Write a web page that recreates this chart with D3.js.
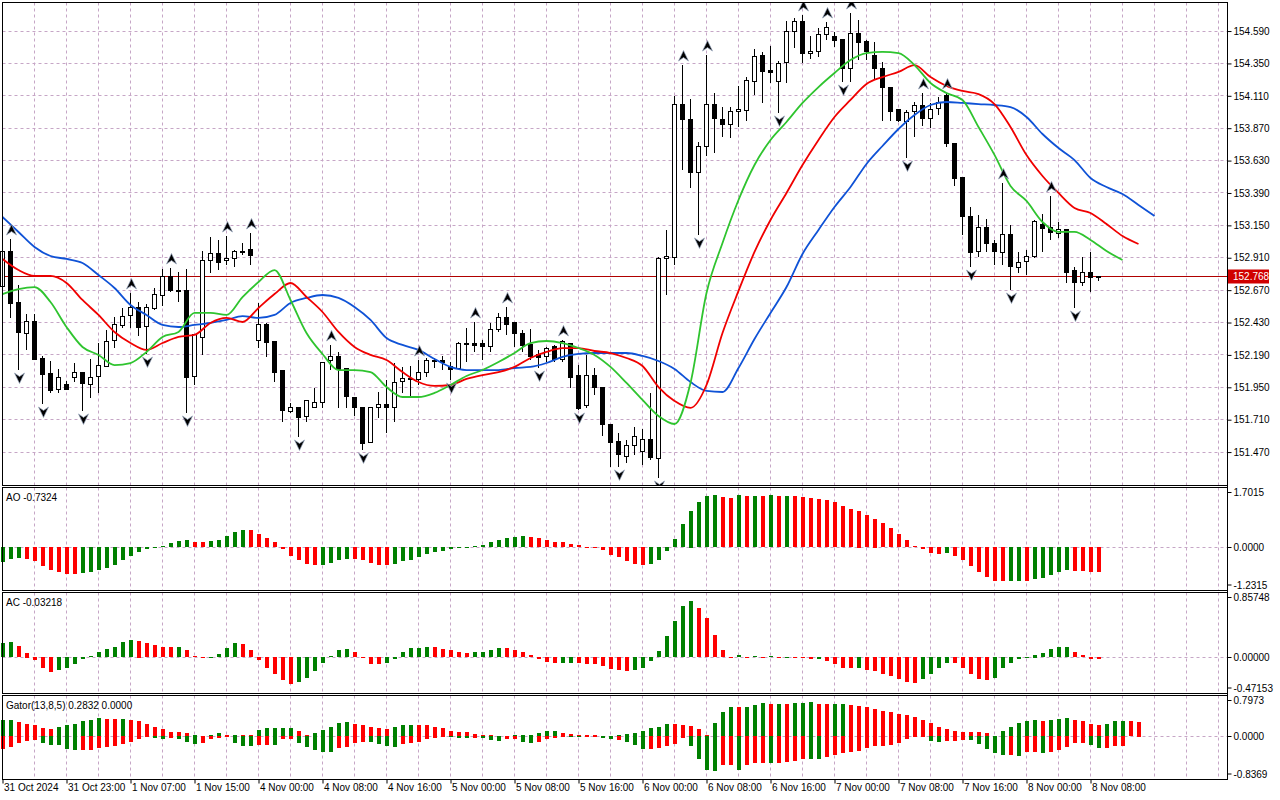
<!DOCTYPE html>
<html lang="en">
<head>
<meta charset="utf-8">
<title>H1 chart - Alligator, AO, AC, Gator</title>
<script src="https://cdn.jsdelivr.net/npm/d3@7"></script>
<style>
	body { margin: 0; background: #fff; }
	svg { display: block; font-family: "Liberation Sans", Arial, sans-serif; font-size: 10px; }
</style>
</head>
<body>
<script type="text/javascript">
// ---- data (one bar per hour, bar 0 = 31 Oct 15:00) ----
var opens = [
	152.693, 152.960, 152.575, 152.352, 152.441, 152.167, 152.049, 151.930, 151.974, 152.019,
	152.056, 151.974, 152.026, 152.108, 152.293, 152.412, 152.478, 152.538, 152.397, 152.538,
	152.627, 152.768, 152.671, 152.671, 152.026, 152.323, 152.886, 152.945, 152.893, 152.908,
	152.960, 152.968, 152.293, 152.412, 152.286, 152.071, 151.775, 151.804, 151.730, 151.804,
	151.841, 152.145, 152.175, 152.086, 151.878, 151.804, 151.545, 151.804, 151.826, 151.804,
	151.989, 152.012, 152.004, 152.056, 152.137, 152.145, 152.101, 152.093, 152.278, 152.278,
	152.271, 152.249, 152.375, 152.464, 152.427, 152.352, 152.264, 152.190, 152.182, 152.249,
	152.152, 152.278, 152.041, 151.819, 152.041, 151.952, 151.678, 151.545, 151.441, 151.522,
	151.471, 151.560, 151.426, 152.901, 152.916, 154.049, 153.938, 153.546, 153.738, 154.042,
	153.938, 153.901, 153.997, 153.997, 154.220, 154.412, 154.301, 154.220, 154.353, 154.583,
	154.664, 154.427, 154.435, 154.561, 154.553, 154.524, 154.316, 154.575, 154.509, 154.412,
	154.316, 154.175, 154.005, 153.923, 153.990, 154.035, 153.946, 154.012, 154.116, 153.760,
	153.501, 153.219, 152.953, 153.131, 153.012, 152.945, 153.079, 152.841, 152.878, 152.916,
	153.160, 153.131, 153.094, 153.123, 152.812, 152.723, 152.797, 152.760
];
var highs = [
	153.005, 153.049, 152.708, 152.493, 152.493, 152.182, 152.145, 152.086, 151.997, 152.130,
	152.063, 152.160, 152.278, 152.375, 152.471, 152.538, 152.649, 152.582, 152.567, 152.686,
	152.827, 152.834, 152.804, 152.827, 152.345, 152.960, 153.064, 153.042, 153.071, 152.968,
	153.019, 153.094, 152.575, 152.427, 152.293, 152.078, 151.834, 151.804, 151.849, 151.945,
	152.137, 152.264, 152.212, 152.086, 151.878, 151.804, 151.804, 151.915, 152.004, 152.130,
	152.101, 152.108, 152.152, 152.167, 152.167, 152.182, 152.137, 152.286, 152.390, 152.434,
	152.301, 152.427, 152.501, 152.545, 152.434, 152.375, 152.382, 152.227, 152.249, 152.264,
	152.301, 152.278, 152.115, 152.190, 152.093, 151.952, 151.678, 151.612, 151.560, 151.656,
	151.641, 151.908, 152.916, 153.116, 154.109, 154.338, 154.086, 153.768, 154.412, 154.131,
	154.027, 154.027, 154.183, 154.249, 154.457, 154.435, 154.479, 154.368, 154.664, 154.687,
	154.709, 154.553, 154.613, 154.657, 154.583, 154.524, 154.724, 154.672, 154.524, 154.509,
	154.361, 154.175, 154.005, 154.005, 154.064, 154.131, 154.057, 154.101, 154.131, 153.760,
	153.501, 153.286, 153.227, 153.197, 153.042, 153.464, 153.153, 152.953, 152.968, 153.190,
	153.234, 153.368, 153.175, 153.123, 152.841, 152.916, 152.953, 152.775
];
var lows = [
	152.596, 152.464, 152.078, 152.227, 152.152, 151.826, 151.908, 151.908, 151.930, 151.989,
	151.775, 151.871, 151.908, 152.101, 152.241, 152.390, 152.390, 152.330, 152.197, 152.523,
	152.553, 152.656, 152.582, 151.760, 151.967, 152.190, 152.797, 152.819, 152.856, 152.841,
	152.930, 152.856, 152.241, 152.175, 151.989, 151.693, 151.760, 151.582, 151.693, 151.804,
	151.797, 152.078, 151.797, 151.797, 151.737, 151.486, 151.537, 151.723, 151.612, 151.693,
	151.908, 151.871, 151.967, 152.026, 152.093, 152.078, 152.004, 152.086, 152.137, 152.212,
	152.152, 152.212, 152.360, 152.338, 152.249, 152.212, 152.152, 152.093, 152.137, 152.137,
	152.137, 151.945, 151.782, 151.797, 151.893, 151.589, 151.360, 151.360, 151.389, 151.448,
	151.374, 151.411, 151.278, 152.634, 152.856, 153.560, 153.427, 153.079, 153.664, 153.686,
	153.805, 153.797, 153.879, 153.923, 154.116, 154.057, 154.205, 153.983, 154.205, 154.464,
	154.353, 154.383, 154.398, 154.524, 154.472, 154.212, 154.212, 154.375, 154.375, 154.227,
	153.923, 153.923, 153.916, 153.649, 153.805, 153.886, 153.872, 153.968, 153.731, 153.442,
	153.079, 152.841, 152.916, 152.953, 152.856, 152.856, 152.671, 152.797, 152.782, 152.908,
	152.953, 153.042, 153.056, 152.723, 152.538, 152.701, 152.656, 152.738
];
var closes = [
	152.953, 152.575, 152.352, 152.441, 152.160, 152.049, 151.923, 152.019, 151.937, 152.056,
	151.974, 152.026, 152.108, 152.293, 152.412, 152.478, 152.538, 152.390, 152.538, 152.641,
	152.768, 152.664, 152.664, 152.026, 152.338, 152.893, 152.938, 152.878, 152.908, 152.960,
	152.953, 152.923, 152.412, 152.278, 152.056, 151.775, 151.804, 151.730, 151.849, 151.841,
	152.137, 152.175, 152.078, 151.878, 151.804, 151.537, 151.804, 151.826, 151.804, 151.989,
	152.012, 152.004, 152.056, 152.145, 152.145, 152.130, 152.078, 152.278, 152.271, 152.264,
	152.249, 152.375, 152.464, 152.412, 152.345, 152.264, 152.175, 152.167, 152.241, 152.152,
	152.286, 152.026, 151.797, 152.041, 151.952, 151.678, 151.545, 151.448, 151.522, 151.589,
	151.560, 151.426, 152.908, 152.916, 154.049, 153.938, 153.546, 153.738, 154.049, 153.938,
	153.901, 153.997, 154.012, 154.220, 154.405, 154.294, 154.287, 154.353, 154.583, 154.657,
	154.427, 154.442, 154.561, 154.613, 154.524, 154.309, 154.575, 154.509, 154.435, 154.316,
	154.175, 153.997, 153.923, 153.990, 154.035, 153.938, 154.012, 154.057, 153.760, 153.501,
	153.212, 152.953, 153.131, 153.012, 152.953, 153.079, 152.841, 152.878, 152.916, 153.175,
	153.131, 153.094, 153.123, 152.804, 152.723, 152.797, 152.760, 152.768
];
var lastPrice = 152.768;

// fractal bars (index into the bar arrays)
var upFractals = [1, 16, 21, 28, 31, 41, 52, 59, 63, 70, 85, 88, 100, 103, 106, 115, 118, 125, 131];
var downFractals = [2, 5, 10, 18, 23, 37, 45, 56, 67, 72, 77, 82, 87, 97, 105, 113, 121, 126, 134];

// alligator lines, read every 2nd bar (bar 0, 2, 4 ...), shifted lines run past the last bar
var jaw = [
	153.212, 153.101, 152.990, 152.923, 152.901, 152.871, 152.782, 152.686, 152.560, 152.486,
	152.412, 152.397, 152.412, 152.427, 152.449, 152.478, 152.464, 152.486, 152.575, 152.612,
	152.634, 152.612, 152.545, 152.449, 152.315, 152.264, 152.227, 152.160, 152.101, 152.078,
	152.078, 152.078, 152.093, 152.101, 152.130, 152.175, 152.197, 152.204, 152.204, 152.204,
	152.182, 152.145, 152.086, 151.989, 151.923, 151.915, 152.093, 152.308, 152.501, 152.693,
	152.938, 153.116, 153.286, 153.434, 153.605, 153.738, 153.864, 153.968, 154.042, 154.064,
	154.057, 154.049, 154.042, 154.027, 153.953, 153.827, 153.723, 153.634, 153.501, 153.434,
	153.382, 153.301, 153.219
];
var teeth = [
	152.901, 152.819, 152.775, 152.775, 152.723, 152.597, 152.486, 152.360, 152.278, 152.227,
	152.278, 152.323, 152.338, 152.427, 152.464, 152.434, 152.538, 152.641, 152.723, 152.619,
	152.508, 152.360, 152.249, 152.190, 152.152, 152.063, 151.989, 151.960, 151.967, 152.012,
	152.041, 152.063, 152.101, 152.167, 152.212, 152.241, 152.241, 152.219, 152.204, 152.167,
	152.108, 151.952, 151.849, 151.797, 151.967, 152.352, 152.664, 152.953, 153.190, 153.390,
	153.597, 153.783, 153.953, 154.079, 154.198, 154.249, 154.287, 154.338, 154.249, 154.183,
	154.146, 154.123, 154.049, 153.879, 153.671, 153.516, 153.390, 153.279, 153.242, 153.160,
	153.071, 153.012
];
var lips = [
	152.641, 152.678, 152.693, 152.582, 152.397, 152.249, 152.190, 152.115, 152.130, 152.212,
	152.323, 152.360, 152.501, 152.501, 152.486, 152.619, 152.730, 152.819, 152.597, 152.352,
	152.197, 152.078, 152.078, 152.063, 151.952, 151.878, 151.878, 151.908, 151.967, 152.034,
	152.078, 152.137, 152.204, 152.278, 152.293, 152.278, 152.241, 152.190, 152.101, 151.982,
	151.856, 151.737, 151.678, 151.982, 152.649, 153.019, 153.338, 153.597, 153.783, 153.916,
	154.057, 154.175, 154.279, 154.375, 154.427, 154.435, 154.427, 154.338, 154.205, 154.131,
	154.079, 153.879, 153.672, 153.442, 153.331, 153.175, 153.101, 153.101, 153.042, 152.960,
	152.893
];
var lineStep = 2;

// Awesome Oscillator
var aoValues = [
	-0.43, -0.34, -0.31, -0.34, -0.41, -0.55, -0.67, -0.73, -0.77, -0.79,
	-0.75, -0.73, -0.67, -0.60, -0.52, -0.38, -0.26, -0.14, -0.07, -0.01,
	0.03, 0.12, 0.17, 0.20, 0.15, 0.14, 0.17, 0.20, 0.32, 0.44,
	0.50, 0.49, 0.37, 0.26, 0.15, -0.05, -0.26, -0.38, -0.50, -0.52,
	-0.51, -0.46, -0.38, -0.34, -0.35, -0.38, -0.46, -0.52, -0.53, -0.49,
	-0.41, -0.36, -0.30, -0.20, -0.14, -0.11, -0.05, -0.04, -0.01, 0.03,
	0.06, 0.15, 0.20, 0.27, 0.30, 0.32, 0.29, 0.27, 0.20, 0.15,
	0.14, 0.09, 0.05, 0.01, -0.005, -0.10, -0.23, -0.29, -0.41, -0.49,
	-0.52, -0.49, -0.38, -0.11, 0.24, 0.67, 1.05, 1.29, 1.46, 1.49,
	1.43, 1.42, 1.49, 1.46, 1.47, 1.46, 1.49, 1.47, 1.48, 1.46,
	1.44, 1.40, 1.39, 1.36, 1.29, 1.19, 1.10, 1.05, 0.93, 0.82,
	0.70, 0.54, 0.38, 0.20, 0.03, -0.05, -0.17, -0.19, -0.18, -0.25,
	-0.37, -0.55, -0.72, -0.86, -0.98, -0.985, -0.98, -0.975, -0.98, -0.92,
	-0.90, -0.81, -0.73, -0.66, -0.68, -0.69, -0.73, -0.7324
];
var aoColors = ("gggrrrrrrr" + "gggggggggg" + "ggggrrgggg" + "grrrrrrrrr" + "ggggrrrrrg" +
	"gggggggggg" + "ggggggrrrr" + "rrrrrrrrrr" + "rggggggggg" + "rrgrgrgrgr" +
	"rrrrrrrrrr" + "rrrrrrrrgr" + "rrrrrrggrg" + "ggggrrrr").split("");

// Accelerator Oscillator
var acValues = [
	0.18, 0.20, 0.145, 0.06, -0.04, -0.145, -0.20, -0.17, -0.145, -0.09,
	-0.02, 0.013, 0.07, 0.105, 0.13, 0.20, 0.22, 0.218, 0.19, 0.16,
	0.13, 0.128, 0.13, 0.09, 0.013, 0.002, 0.004, 0.045, 0.12, 0.19,
	0.175, 0.09, -0.04, -0.14, -0.22, -0.30, -0.35, -0.325, -0.275, -0.18,
	-0.08, 0.013, 0.09, 0.105, 0.07, -0.005, -0.09, -0.092, -0.075, -0.02,
	0.07, 0.12, 0.12, 0.13, 0.13, 0.105, 0.09, 0.065, 0.05, 0.065,
	0.066, 0.09, 0.12, 0.118, 0.09, 0.065, 0.026, -0.02, -0.06, -0.075,
	-0.074, -0.073, -0.075, -0.09, -0.09, -0.115, -0.16, -0.17, -0.185, -0.17,
	-0.145, -0.05, 0.08, 0.28, 0.47, 0.67, 0.74, 0.645, 0.51, 0.29,
	0.09, 0.002, 0.025, 0.001, 0.01, -0.005, 0.01, -0.002, 0.004, -0.003,
	-0.004, -0.03, -0.028, -0.05, -0.09, -0.145, -0.146, -0.14, -0.17, -0.185,
	-0.22, -0.25, -0.29, -0.325, -0.34, -0.285, -0.23, -0.15, -0.075, -0.076,
	-0.145, -0.23, -0.285, -0.30, -0.27, -0.15, -0.075, -0.02, 0.004, 0.035,
	0.05, 0.105, 0.13, 0.132, 0.065, 0.026, -0.02, -0.03218
];
var acColors = ("ggrrrrrggg" + "gggggggrrr" + "rrgrrrgggg" + "rrrrrrrggg" + "ggggrrrrgg" +
	"ggggrrrrrg" + "gggrrrrrrr" + "ggrrrrrrrg" + "gggggggrrr" + "rrgrgrgrgr" +
	"rrgrrrrgrr" + "rrrrrggggr" + "rrrrgggggg" + "ggggrrrr").split("");

// Gator oscillator (upper = jaw/teeth gap, lower = teeth/lips gap)
var gatorUp = [
	0.31, 0.31, 0.28, 0.245, 0.22, 0.155, 0.135, 0.18, 0.21, 0.245,
	0.29, 0.31, 0.35, 0.33, 0.33, 0.335, 0.31, 0.29, 0.245, 0.19,
	0.135, 0.09, 0.077, 0.065, 0.03, 0.01, 0.03, 0.06, 0.02, 0.03,
	0.028, 0.025, 0.115, 0.155, 0.155, 0.155, 0.155, 0.10, 0.02, 0.065,
	0.13, 0.19, 0.25, 0.27, 0.245, 0.22, 0.175, 0.155, 0.15, 0.18,
	0.21, 0.225, 0.22, 0.21, 0.175, 0.155, 0.11, 0.09, 0.077, 0.05,
	0.03, 0.03, 0.015, 0.01, 0.03, 0.03, 0.03, 0.06, 0.10, 0.10,
	0.07, 0.05, 0.03, 0.02, 0.02, 0.01, 0.01, 0.025, 0.05, 0.065,
	0.10, 0.155, 0.19, 0.23, 0.23, 0.21, 0.205, 0.135, 0.03, 0.25,
	0.465, 0.56, 0.56, 0.575, 0.60, 0.64, 0.62, 0.62, 0.62, 0.64,
	0.64, 0.66, 0.62, 0.62, 0.62, 0.62, 0.60, 0.58, 0.56, 0.54,
	0.50, 0.465, 0.43, 0.41, 0.37, 0.31, 0.25, 0.19, 0.135, 0.10,
	0.077, 0.078, 0.077, 0.06, 0.005, 0.10, 0.19, 0.25, 0.29, 0.31,
	0.29, 0.31, 0.33, 0.35, 0.32, 0.29, 0.23, 0.225, 0.23, 0.29,
	0.29, 0.29, 0.2832
];
var gatorUpColors = ("ggrrrrrggg" + "gggrrgrrrr" + "rrrrgrggrg" + "rrgggggrrg" + "ggggrrrrrg" +
	"ggrrrrrrrr" + "rrrrgggggg" + "rrrrrgrggg" + "ggggrrrrrg" + "ggrgggrgrg" +
	"ggrrggrrrr" + "rrrrrrrrrr" + "rrrrgggggg" + "rgggrrrrgg" + "grr").split("");
var gatorDown = [
	-0.26, -0.21, -0.13, -0.10, -0.08, -0.13, -0.18, -0.18, -0.25, -0.28,
	-0.27, -0.27, -0.225, -0.21, -0.19, -0.16, -0.12, -0.05, -0.01, -0.03,
	-0.06, -0.03, -0.05, -0.115, -0.15, -0.13, -0.05, -0.03, -0.02, -0.13,
	-0.19, -0.19, -0.175, -0.175, -0.17, -0.05, -0.05, -0.13, -0.21, -0.27,
	-0.31, -0.31, -0.24, -0.21, -0.13, -0.115, -0.115, -0.15, -0.19, -0.21,
	-0.15, -0.13, -0.115, -0.05, -0.03, -0.005, -0.01, -0.03, -0.03, -0.03,
	-0.03, -0.08, -0.10, -0.065, -0.065, -0.115, -0.13, -0.115, -0.065, -0.04,
	-0.006, -0.01, -0.012, -0.005, -0.003, -0.045, -0.065, -0.07, -0.11, -0.175,
	-0.245, -0.245, -0.225, -0.19, -0.16, -0.03, -0.19, -0.44, -0.66, -0.69,
	-0.57, -0.57, -0.66, -0.57, -0.53, -0.53, -0.53, -0.52, -0.50, -0.49,
	-0.445, -0.44, -0.44, -0.41, -0.37, -0.335, -0.32, -0.30, -0.225, -0.19,
	-0.19, -0.17, -0.13, -0.05, -0.01, -0.004, -0.09, -0.11, -0.09, -0.09,
	-0.07, -0.07, -0.15, -0.245, -0.34, -0.37, -0.36, -0.38, -0.32, -0.32,
	-0.34, -0.32, -0.27, -0.21, -0.13, -0.13, -0.17, -0.225, -0.225, -0.19,
	-0.19
];
var gatorDownColors = ("rrrrrggggg" + "rrrrrrrrrg" + "grgggrrrrg" + "ggrrgrrggg" + "ggrrrrgggg" +
	"rrrrrrgggr" + "gggrrggrrr" + "rggrrggrgg" + "grrrrrgggg" + "rrgrrrgrrr" +
	"rggrrrrrrr" + "rrrrrrggrr" + "rgggggrgrr" + "grrrrrggrr" + "r").split("");

// axes
var priceTicks = [154.59, 154.35, 154.11, 153.87, 153.63, 153.39, 153.15, 152.91, 152.67, 152.43, 152.19, 151.95, 151.71, 151.47];
var timeLabelBars = [0, 8, 16, 24, 32, 40, 48, 56, 64, 72, 80, 88, 96, 104, 112, 120, 128, 136];
var timeLabels = ["31 Oct 2024", "31 Oct 23:00", "1 Nov 07:00", "1 Nov 15:00", "4 Nov 00:00", "4 Nov 08:00",
	"4 Nov 16:00", "5 Nov 00:00", "5 Nov 08:00", "5 Nov 16:00", "6 Nov 00:00", "6 Nov 08:00",
	"6 Nov 16:00", "7 Nov 00:00", "7 Nov 08:00", "7 Nov 16:00", "8 Nov 00:00", "8 Nov 08:00"];
var aoRange = [-1.2315, 1.7015];
var acRange = [-0.47153, 0.85748];
var gatorRange = [-0.8369, 0.7973];

// ---- drawing ----
var FONT = '"Liberation Sans", Arial, sans-serif';
var gridColor = '#c6a6c6';
var upColor = '#008000', downColor = '#ff0000';
var axisX = 1227.5;

// plain hyphen for negative numbers, like the terminal prints them
var locale = d3.formatLocale({decimal: '.', thousands: ',', grouping: [3], currency: ['', ''], minus: '-'});
var fmt3 = locale.format('.3f'), fmt4 = locale.format('.4f'), fmt5 = locale.format('.5f');

var panels = {
	main: [2.5, 485.5],
	ao: [487.5, 590.5],
	ac: [592.5, 693.5],
	gator: [695.5, 779.5]
};

var svg = d3.select('body').append('svg')
	.attr('width', 1280)
	.attr('height', 800);

var x = d3.scaleLinear().domain([0, 150]).range([2.5, 1202.5]);
var y = d3.scaleLinear().domain([151.226, 154.820]).range([485, 0]);
var yAO = d3.scaleLinear().domain(aoRange).range([590, 488]);
var yAC = d3.scaleLinear().domain(acRange).range([693, 592]);
var yG = d3.scaleLinear().domain(gatorRange).range([779.3, 695.3]);

function crisp(v){ return Math.round(v - 0.5) + 0.5; }

svg.append('defs').append('clipPath').attr('id', 'clipMain')
	.append('rect').attr('x', 0).attr('y', 3).attr('width', axisX).attr('height', 482);

// vertical grid in every panel
var gridBars = d3.range(4, 153, 4);
Object.keys(panels).forEach(function(k){
	var p = panels[k];
	svg.append('g').selectAll('line').data(gridBars).enter().append('line')
		.attr('x1', function(d){ return x(d); })
		.attr('x2', function(d){ return x(d); })
		.attr('y1', p[0]).attr('y2', p[1])
		.attr('stroke', gridColor)
		.attr('stroke-dasharray', '3,3');
});

// horizontal grid
svg.append('g').selectAll('line').data(priceTicks).enter().append('line')
	.attr('x1', 2.5).attr('x2', axisX)
	.attr('y1', function(d){ return crisp(y(d)); })
	.attr('y2', function(d){ return crisp(y(d)); })
	.attr('stroke', gridColor)
	.attr('stroke-dasharray', '3,3');

[yAO, yAC, yG].forEach(function(s){
	svg.append('line')
		.attr('x1', 2.5).attr('x2', axisX)
		.attr('y1', crisp(s(0))).attr('y2', crisp(s(0)))
		.attr('stroke', gridColor)
		.attr('stroke-dasharray', '3,3');
});

// last price line
svg.append('line')
	.attr('x1', 2.5).attr('x2', axisX)
	.attr('y1', crisp(y(lastPrice))).attr('y2', crisp(y(lastPrice)))
	.attr('stroke', '#b00000');

var main = svg.append('g').attr('clip-path', 'url(#clipMain)');

// candles
var bars = d3.range(closes.length).map(function(i){
	return {i: i, o: opens[i], h: highs[i], l: lows[i], c: closes[i]};
});

main.append('g').selectAll('line').data(bars).enter().append('line')
	.attr('x1', function(d){ return x(d.i); })
	.attr('x2', function(d){ return x(d.i); })
	.attr('y1', function(d){ return Math.round(y(d.h)); })
	.attr('y2', function(d){ return Math.round(y(d.l)); })
	.attr('stroke', '#000');

main.append('g').selectAll('rect').data(bars).enter().append('rect')
	.attr('x', function(d){ return x(d.i) - 2; })
	.attr('width', 4)
	.attr('y', function(d){ return crisp(y(Math.max(d.o, d.c))); })
	.attr('height', function(d){
		return Math.max(1, Math.round(Math.abs(y(d.o) - y(d.c))));
	})
	.attr('fill', function(d){ return d.c >= d.o ? '#fff' : '#000'; })
	.attr('stroke', '#000');

// alligator
var line = d3.line()
	.x(function(d, k){ return x(k * lineStep); })
	.y(function(d){ return y(d); })
	.curve(d3.curveMonotoneX);

[[jaw, '#0f52d6'], [teeth, '#f00000'], [lips, '#2fc42f']].forEach(function(s){
	main.append('path')
		.attr('d', line(s[0]))
		.attr('fill', 'none')
		.attr('stroke', s[1])
		.attr('stroke-width', 1.8);
});

// fractals
main.append('g').selectAll('path').data(upFractals).enter().append('path')
	.attr('transform', function(d){ return 'translate(' + (x(d) + 1) + ',' + (y(highs[d]) - 9) + ')'; })
	.attr('d', 'M0,-5.5L5,5L0,1.5L-5,5Z')
	.attr('fill', '#000')
	.attr('stroke', '#9aa8c0')
	.attr('stroke-width', 0.7);

main.append('g').selectAll('path').data(downFractals).enter().append('path')
	.attr('transform', function(d){ return 'translate(' + (x(d) + 1) + ',' + (y(lows[d]) + 8) + ')'; })
	.attr('d', 'M0,5.5L5,-5L0,-1.5L-5,-5Z')
	.attr('fill', '#000')
	.attr('stroke', '#9aa8c0')
	.attr('stroke-width', 0.7);

// histograms
function histogram(values, colors, scale){
	var z = scale(0);
	svg.append('g').selectAll('rect').data(values).enter().append('rect')
		.attr('x', function(d, i){ return x(i) - 1.5; })
		.attr('width', 4)
		.attr('y', function(d){ return Math.round(Math.min(z, scale(d))); })
		.attr('height', function(d){ return Math.max(1, Math.round(Math.abs(scale(d) - z))); })
		.attr('fill', function(d, i){ return colors[i] === 'g' ? upColor : downColor; });
}
histogram(aoValues, aoColors, yAO);
histogram(acValues, acColors, yAC);
histogram(gatorUp, gatorUpColors, yG);
histogram(gatorDown, gatorDownColors, yG);

// panel frames
Object.keys(panels).forEach(function(k){
	var p = panels[k];
	svg.append('rect')
		.attr('x', 2.5).attr('y', p[0])
		.attr('width', axisX - 2.5).attr('height', p[1] - p[0])
		.attr('fill', 'none').attr('stroke', '#000');
});
svg.append('line')
	.attr('x1', axisX).attr('x2', axisX).attr('y1', 2.5).attr('y2', 779.5)
	.attr('stroke', '#000');

// price axis
var yAxis = d3.axisRight(y).tickValues(priceTicks).tickFormat(fmt3).tickSize(4).tickPadding(2);
svg.append('g')
	.attr('transform', 'translate(' + axisX + ',0)')
	.call(yAxis)
	.call(function(g){
		g.select('.domain').remove();
		g.attr('font-family', FONT).attr('font-size', 10);
	});

// last price tag
var tagY = crisp(y(lastPrice));
svg.append('rect')
	.attr('x', 1228).attr('y', tagY - 7).attr('width', 41).attr('height', 14)
	.attr('fill', '#d00000');
svg.append('text')
	.attr('x', 1233).attr('y', tagY + 3.5)
	.attr('fill', '#fff')
	.attr('font-size', 10)
	.text(fmt3(lastPrice));

// time axis
var xAxis = d3.axisBottom(x)
	.tickValues(timeLabelBars)
	.tickFormat(function(d, k){ return timeLabels[k]; })
	.tickSize(4);
svg.append('g')
	.attr('transform', 'translate(0,779.5)')
	.call(xAxis)
	.call(function(g){
		g.select('.domain').remove();
		g.attr('font-family', FONT).attr('font-size', 10);
		g.selectAll('text').attr('text-anchor', 'start').attr('x', 1).attr('y', 4);
	});

// indicator scales on the right
function sideLabels(scale, range, fmt, p){
	var items = [
		{v: range[1], ty: p[0] + 5},
		{v: 0, ty: crisp(scale(0))},
		{v: range[0], ty: p[1] - 5.5}
	];
	var g = svg.append('g');
	g.selectAll('line').data(items).enter().append('line')
		.attr('x1', axisX).attr('x2', axisX + 4)
		.attr('y1', function(d){ return d.ty; })
		.attr('y2', function(d){ return d.ty; })
		.attr('stroke', '#000');
	g.selectAll('text').data(items).enter().append('text')
		.attr('x', axisX + 6)
		.attr('y', function(d){ return d.ty + 3.5; })
		.text(function(d){ return fmt(d.v); });
}
sideLabels(yAO, aoRange, fmt4, panels.ao);
sideLabels(yAC, acRange, fmt5, panels.ac);
sideLabels(yG, gatorRange, fmt4, panels.gator);

// indicator titles
svg.append('text').attr('x', 6).attr('y', 500.5)
	.text('AO ' + fmt4(aoValues[aoValues.length - 1]));
svg.append('text').attr('x', 6).attr('y', 605.5)
	.text('AC ' + fmt5(acValues[acValues.length - 1]));
svg.append('text').attr('x', 6).attr('y', 708.5)
	.text('Gator(13,8,5) ' + fmt4(gatorUp[gatorUp.length - 1]) + ' 0.0000');
</script>
</body>
</html>
